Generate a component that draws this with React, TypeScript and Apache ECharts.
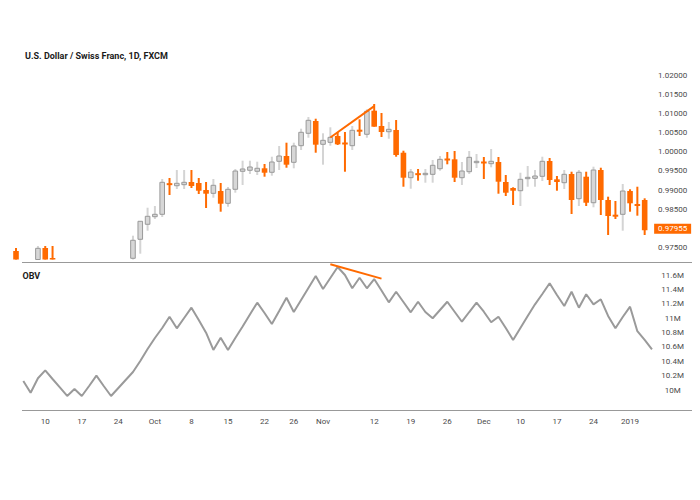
import React, { useEffect, useRef } from "react";
import * as echarts from "echarts";

// ---------- data ----------
const dates = [
  "2018-09-04", "2018-09-05", "2018-09-06", "2018-09-07",
  "2018-09-10", "2018-09-11", "2018-09-12", "2018-09-13", "2018-09-14",
  "2018-09-17", "2018-09-18", "2018-09-19", "2018-09-20", "2018-09-21",
  "2018-09-24", "2018-09-25", "2018-09-26", "2018-09-27", "2018-09-28",
  "2018-10-01", "2018-10-02", "2018-10-03", "2018-10-04", "2018-10-05",
  "2018-10-08", "2018-10-09", "2018-10-10", "2018-10-11", "2018-10-12",
  "2018-10-15", "2018-10-16", "2018-10-17", "2018-10-18", "2018-10-19",
  "2018-10-22", "2018-10-23", "2018-10-24", "2018-10-25", "2018-10-26",
  "2018-10-29", "2018-10-30", "2018-10-31", "2018-11-01", "2018-11-02",
  "2018-11-05", "2018-11-06", "2018-11-07", "2018-11-08", "2018-11-09",
  "2018-11-12", "2018-11-13", "2018-11-14", "2018-11-15", "2018-11-16",
  "2018-11-19", "2018-11-20", "2018-11-21", "2018-11-22", "2018-11-23",
  "2018-11-26", "2018-11-27", "2018-11-28", "2018-11-29", "2018-11-30",
  "2018-12-03", "2018-12-04", "2018-12-05", "2018-12-06", "2018-12-07",
  "2018-12-10", "2018-12-11", "2018-12-12", "2018-12-13", "2018-12-14",
  "2018-12-17", "2018-12-18", "2018-12-19", "2018-12-20", "2018-12-21",
  "2018-12-24", "2018-12-26", "2018-12-27", "2018-12-28", "2018-12-31",
  "2019-01-02", "2019-01-03", "2019-01-04", "2019-01-07",
];

const opens = [
  0.97414, 0.9700, 0.9690, 0.9702, 0.97492, 0.97231, 0.9690, 0.9680, 0.9668, 0.9680,
  0.9662, 0.9675, 0.9690, 0.9672, 0.9660, 0.9675, 0.97224, 0.97719, 0.98110, 0.98308,
  0.98370, 0.99178, 0.99115, 0.99142, 0.99212, 0.99186, 0.99003, 0.98917, 0.98977, 0.98657,
  0.99022, 0.99491, 0.99517, 0.99491, 0.99569, 0.99465, 0.99751, 0.99889, 0.99725, 1.00158,
  1.00481, 1.00801, 1.00194, 1.00246, 1.00410, 1.00236, 1.00158, 1.00575, 1.00455, 1.01070,
  1.00671, 1.00522, 1.00567, 0.99975, 0.99324, 0.99438, 0.99402, 0.99412, 0.99558, 0.99819,
  0.99803, 0.99324, 0.99480, 0.99715, 0.99741, 0.99689, 0.99733, 0.99212, 0.99056, 0.98985,
  0.99298, 0.99308, 0.99360, 0.99759, 0.99282, 0.99194, 0.99420, 0.98777, 0.99350, 0.98672,
  0.99524, 0.98743, 0.98360, 0.98370, 0.98977, 0.98639, 0.98743,
];
const closes = [
  0.9700, 0.9690, 0.9702, 0.97484, 0.9712, 0.9690, 0.9680, 0.9668, 0.9680, 0.9662,
  0.9675, 0.9690, 0.9672, 0.9660, 0.9675, 0.9700, 0.97693, 0.98188, 0.98318, 0.98370,
  0.99204, 0.99134, 0.99178, 0.99204, 0.99108, 0.98985, 0.98907, 0.99126, 0.98646, 0.99022,
  0.99498, 0.99551, 0.99603, 0.99569, 0.99454, 0.99733, 0.99889, 0.99663, 1.00150, 1.00507,
  1.00819, 1.00184, 1.00298, 1.00376, 1.00194, 1.00194, 1.00559, 1.00522, 1.01054, 1.00653,
  1.00515, 1.00585, 0.99915, 0.99324, 0.99472, 0.99394, 0.99438, 0.99647, 0.99803, 0.99777,
  0.99324, 0.99498, 0.99855, 0.99751, 0.99699, 0.99751, 0.99220, 0.98933, 0.98985, 0.99282,
  0.99334, 0.99368, 0.99751, 0.99264, 0.99212, 0.99412, 0.98743, 0.99465, 0.98672, 0.99524,
  0.98743, 0.98326, 0.98308, 0.98977, 0.98657, 0.98587, 0.97955,
];
const lows = [
  0.9690, 0.9680, 0.9675, 0.9695, 0.9705, 0.9682, 0.9665, 0.9655, 0.9660, 0.9650,
  0.9655, 0.9668, 0.9660, 0.9648, 0.9652, 0.9668, 0.9712, 0.97344, 0.97943, 0.98248,
  0.98300, 0.98873, 0.99029, 0.99029, 0.99056, 0.98899, 0.98534, 0.98803, 0.98438, 0.98568,
  0.98933, 0.99134, 0.99420, 0.99394, 0.99350, 0.99376, 0.99524, 0.99584, 0.99569, 1.00046,
  1.00366, 0.99975, 0.99663, 1.00158, 1.00176, 0.99480, 1.00046, 1.00410, 1.00366, 1.00653,
  1.00384, 1.00340, 0.99871, 0.99089, 0.99037, 0.99246, 0.99194, 0.99194, 0.99506, 0.99673,
  0.99212, 0.99134, 0.99420, 0.99577, 0.99290, 0.99595, 0.98907, 0.98847, 0.98613, 0.98586,
  0.99089, 0.99089, 0.99238, 0.99134, 0.98985, 0.99029, 0.98378, 0.98586, 0.98586, 0.98553,
  0.98352, 0.97831, 0.98248, 0.97943, 0.98438, 0.98334, 0.97831,
];
const highs = [
  0.97492, 0.9710, 0.9712, 0.97544, 0.97544, 0.97544, 0.9705, 0.9695, 0.9690, 0.9688,
  0.9685, 0.9700, 0.9698, 0.9680, 0.9685, 0.9710, 0.97813, 0.98190, 0.98542, 0.98586,
  0.99290, 0.99316, 0.99524, 0.99524, 0.99524, 0.99316, 0.99212, 0.99290, 0.99186, 0.99082,
  0.99550, 0.99767, 0.99767, 0.99741, 0.99681, 0.99871, 1.00150, 1.00236, 1.00236, 1.00601,
  1.00905, 1.00861, 1.00481, 1.00637, 1.00507, 1.00515, 1.00671, 1.00845, 1.01106, 1.01244,
  1.01010, 1.00775, 1.00827, 1.00027, 0.99551, 0.99551, 0.99551, 0.99785, 0.99889, 0.99993,
  1.00020, 0.99733, 1.00020, 0.99941, 0.99863, 1.00072, 0.99863, 0.99394, 0.99074, 0.99454,
  0.99629, 0.99524, 0.99871, 0.99837, 0.99368, 0.99524, 0.99480, 0.99524, 0.99480, 0.99611,
  0.99584, 0.98829, 0.98717, 0.99160, 0.99022, 0.99089, 0.98787,
];

// OBV in millions
const obvValues = [
  null, 10.125, 9.962, 10.163, 10.274, 10.153, 10.036, 9.917, 10.014, 9.917,
  10.056, 10.199, 10.056, 9.917, 10.028, 10.139, 10.250, 10.403, 10.570, 10.723,
  10.863, 11.020, 10.858, 11.002, 11.145, 10.974, 10.797, 10.557, 10.728, 10.557,
  10.723, 10.883, 11.050, 11.215, 11.071, 10.918, 11.099, 11.284, 11.085, 11.252,
  11.419, 11.586, 11.405, 11.558, 11.711, 11.600, 11.415, 11.562, 11.415, 11.544,
  11.384, 11.220, 11.367, 11.224, 11.081, 11.228, 11.085, 10.998, 11.113, 11.228,
  11.089, 10.950, 11.085, 11.215, 11.089, 10.942, 11.020, 10.863, 10.696, 10.863,
  11.030, 11.192, 11.336, 11.485, 11.322, 11.169, 11.367, 11.145, 11.332, 11.192,
  11.262, 11.030, 10.858, 11.016, 11.159, 10.818, 10.696, 10.566,
];

const tickDates = [
  "2018-09-10", "2018-09-17", "2018-09-24", "2018-10-01", "2018-10-08", "2018-10-15",
  "2018-10-22", "2018-10-26", "2018-11-01", "2018-11-12", "2018-11-19", "2018-11-26",
  "2018-12-03", "2018-12-10", "2018-12-17", "2018-12-24", "2019-01-02",
];
const tickTexts = [
  "10", "17", "24", "Oct", "8", "15", "22", "26", "Nov", "12", "19", "26",
  "Dec", "10", "17", "24", "2019",
];

const priceTicks = [0.975, 0.98, 0.985, 0.99, 0.995, 1.0, 1.005, 1.01, 1.015, 1.02];
const obvTicks = [10, 10.2, 10.4, 10.6, 10.8, 11, 11.2, 11.4, 11.6];
const lastClose = 0.97955;

const priceTrend = [["2018-11-02", 1.0037], ["2018-11-12", 1.0119]];
const obvTrend = [["2018-11-02", 11.75], ["2018-11-13", 11.55]];

const TITLE = "U.S. Dollar / Swiss Franc, 1D, FXCM";

// ---------- styles / layout ----------
const ORANGE = "#ff6a00";
const GRAY_FILL = "#d7d7d7";
const GRAY_BORDER = "#999999";
const GRAY_WICK = "#d4d4d4";
const LINE_GRAY = "#999999";
const LABEL = "#4a4a4a";
const FONT = "Roboto";

const W = 700;
const GRID_LEFT = 12.35;
const BAR_W = 7.31;
const GRID_WIDTH = BAR_W * dates.length;
const GRID_RIGHT = W - GRID_LEFT - GRID_WIDTH;

// price pane: 0.975 at y=247.7, 1.02 at y=75
const P_TOP = 60;
const P_BOTTOM = 259.5;
const PPX = (247.7 - 75) / (1.02 - 0.975);
const priceMin = 0.975 - (P_BOTTOM - 247.7) / PPX;
const priceMax = 1.02 + (75 - P_TOP) / PPX;

// OBV pane: 10M at y=390, 11.6M at y=275
const O_TOP = 262;
const O_BOTTOM = 410;
const OPX = (390 - 275) / 1.6;
const obvMin = 10 - (O_BOTTOM - 390) / OPX;
const obvMax = 11.6 + (275 - O_TOP) / OPX;

export default function App() {
  const ref = useRef<HTMLDivElement>(null);

  useEffect(() => {
    if (!ref.current) return;
    const chart = echarts.init(ref.current, null, { renderer: "svg" });

    const candleData = opens.map((o, i) => [i, o, closes[i], lows[i], highs[i]]);

    const renderCandle = (params: any, api: any) => {
      const i = api.value(0);
      const o = api.value(1);
      const c = api.value(2);
      const l = api.value(3);
      const h = api.value(4);
      const pO = api.coord([i, o]);
      const pC = api.coord([i, c]);
      const pL = api.coord([i, l]);
      const pH = api.coord([i, h]);
      const x = pO[0];
      const cs = params.coordSys;
      const clipBox = { x: cs.x, y: cs.y, width: cs.width, height: cs.height };
      const up = c >= o;
      let top = Math.min(pO[1], pC[1]);
      let bh = Math.abs(pO[1] - pC[1]);
      const minH = up ? 1.2 : 2;
      if (bh < minH) {
        top = (pO[1] + pC[1]) / 2 - minH / 2;
        bh = minH;
      }
      const wick = echarts.graphic.clipRectByRect(
        { x: x - 1, y: pH[1], width: 2, height: pL[1] - pH[1] },
        clipBox
      );
      const bw = up ? 4.6 : 5.6;
      const body = echarts.graphic.clipRectByRect(
        { x: x - bw / 2, y: top, width: bw, height: bh },
        clipBox
      );
      const children: any[] = [];
      if (wick) {
        children.push({
          type: "rect",
          shape: wick,
          style: { fill: up ? GRAY_WICK : ORANGE },
        });
      }
      if (body) {
        children.push({
          type: "rect",
          shape: body,
          style: up
            ? { fill: GRAY_FILL, stroke: GRAY_BORDER, lineWidth: 1 }
            : { fill: ORANGE },
        });
      }
      return { type: "group", children };
    };

    const trendStyle = { color: ORANGE, width: 2, type: "solid" as const };

    const option: any = {
      animation: false,
      backgroundColor: "#ffffff",
      textStyle: { fontFamily: FONT },
      grid: [
        { left: GRID_LEFT, right: GRID_RIGHT, top: P_TOP, height: P_BOTTOM - P_TOP },
        { left: GRID_LEFT, right: GRID_RIGHT, top: O_TOP, height: O_BOTTOM - O_TOP },
      ],
      xAxis: [
        {
          type: "category",
          gridIndex: 0,
          data: dates,
          boundaryGap: true,
          show: false,
        },
        {
          type: "category",
          gridIndex: 1,
          data: dates,
          boundaryGap: true,
          axisLine: { show: false },
          axisTick: { show: false },
          splitLine: { show: false },
          axisLabel: {
            interval: (_idx: number, value: string) => tickDates.includes(value),
            formatter: (value: string) => {
              const k = tickDates.indexOf(value);
              return k >= 0 ? tickTexts[k] : "";
            },
            color: LABEL,
            fontSize: 8,
            fontFamily: FONT,
            margin: 7,
            hideOverlap: false,
          },
        },
      ],
      yAxis: [
        {
          type: "value",
          gridIndex: 0,
          position: "right",
          min: priceMin,
          max: priceMax,
          scale: true,
          axisLine: { show: false },
          axisTick: { show: false },
          splitLine: { show: false },
          axisLabel: {
            customValues: priceTicks,
            formatter: (v: number) => v.toFixed(5),
            color: LABEL,
            fontSize: 8,
            fontFamily: FONT,
            align: "center",
            margin: 17,
          },
        },
        {
          type: "value",
          gridIndex: 1,
          position: "right",
          min: obvMin,
          max: obvMax,
          scale: true,
          axisLine: { show: false },
          axisTick: { show: false },
          splitLine: { show: false },
          axisLabel: {
            customValues: obvTicks,
            formatter: (v: number) => `${parseFloat(v.toFixed(1))}M`,
            color: LABEL,
            fontSize: 8,
            fontFamily: FONT,
            align: "center",
            margin: 17,
          },
        },
      ],
      series: [
        {
          type: "custom",
          name: "price",
          xAxisIndex: 0,
          yAxisIndex: 0,
          renderItem: renderCandle,
          encode: { x: 0, y: [1, 2, 3, 4] },
          data: candleData,
          silent: true,
          markLine: {
            silent: true,
            symbol: ["none", "none"],
            label: { show: false },
            lineStyle: trendStyle,
            data: [[{ coord: priceTrend[0] }, { coord: priceTrend[1] }]],
          },
        },
        {
          type: "line",
          name: "OBV",
          xAxisIndex: 1,
          yAxisIndex: 1,
          data: obvValues,
          showSymbol: false,
          symbol: "none",
          silent: true,
          lineStyle: { color: "#9a9a9a", width: 2 },
          markLine: {
            silent: true,
            symbol: ["none", "none"],
            label: { show: false },
            lineStyle: trendStyle,
            data: [[{ coord: obvTrend[0] }, { coord: obvTrend[1] }]],
          },
        },
      ],
    };

    chart.setOption(option);

    const yLast = chart.convertToPixel({ yAxisIndex: 0 } as any, lastClose) as number;
    const labelX = W - GRID_RIGHT + 17;

    chart.setOption({
      graphic: [
        {
          type: "text",
          x: 25,
          y: 55.5,
          style: {
            text: TITLE,
            font: `bold 9px ${FONT}`,
            fill: "#1a1a1a",
            verticalAlign: "middle",
          },
        },
        {
          type: "text",
          x: 22.5,
          y: 275.7,
          style: {
            text: "OBV",
            font: `bold 9px ${FONT}`,
            fill: "#1a1a1a",
            verticalAlign: "middle",
          },
        },
        {
          type: "line",
          shape: { x1: 22, y1: 262.5, x2: 692, y2: 262.5 },
          style: { stroke: LINE_GRAY, lineWidth: 1 },
        },
        {
          type: "line",
          shape: { x1: 22, y1: 410.5, x2: 692, y2: 410.5 },
          style: { stroke: LINE_GRAY, lineWidth: 1 },
        },
        {
          type: "rect",
          shape: { x: labelX - 18.5, y: yLast - 6.5, width: 37, height: 10 },
          style: { fill: ORANGE },
          z: 10,
        },
        {
          type: "text",
          x: labelX,
          y: yLast - 1.5,
          z: 11,
          style: {
            text: lastClose.toFixed(5),
            font: `8px ${FONT}`,
            fill: "#ffffff",
            align: "center",
            verticalAlign: "middle",
          },
        },
      ],
    });

    return () => chart.dispose();
  }, []);

  return (
    <div
      ref={ref}
      style={{ position: "absolute", left: 0, top: 0, width: 700, height: 500 }}
    />
  );
}
